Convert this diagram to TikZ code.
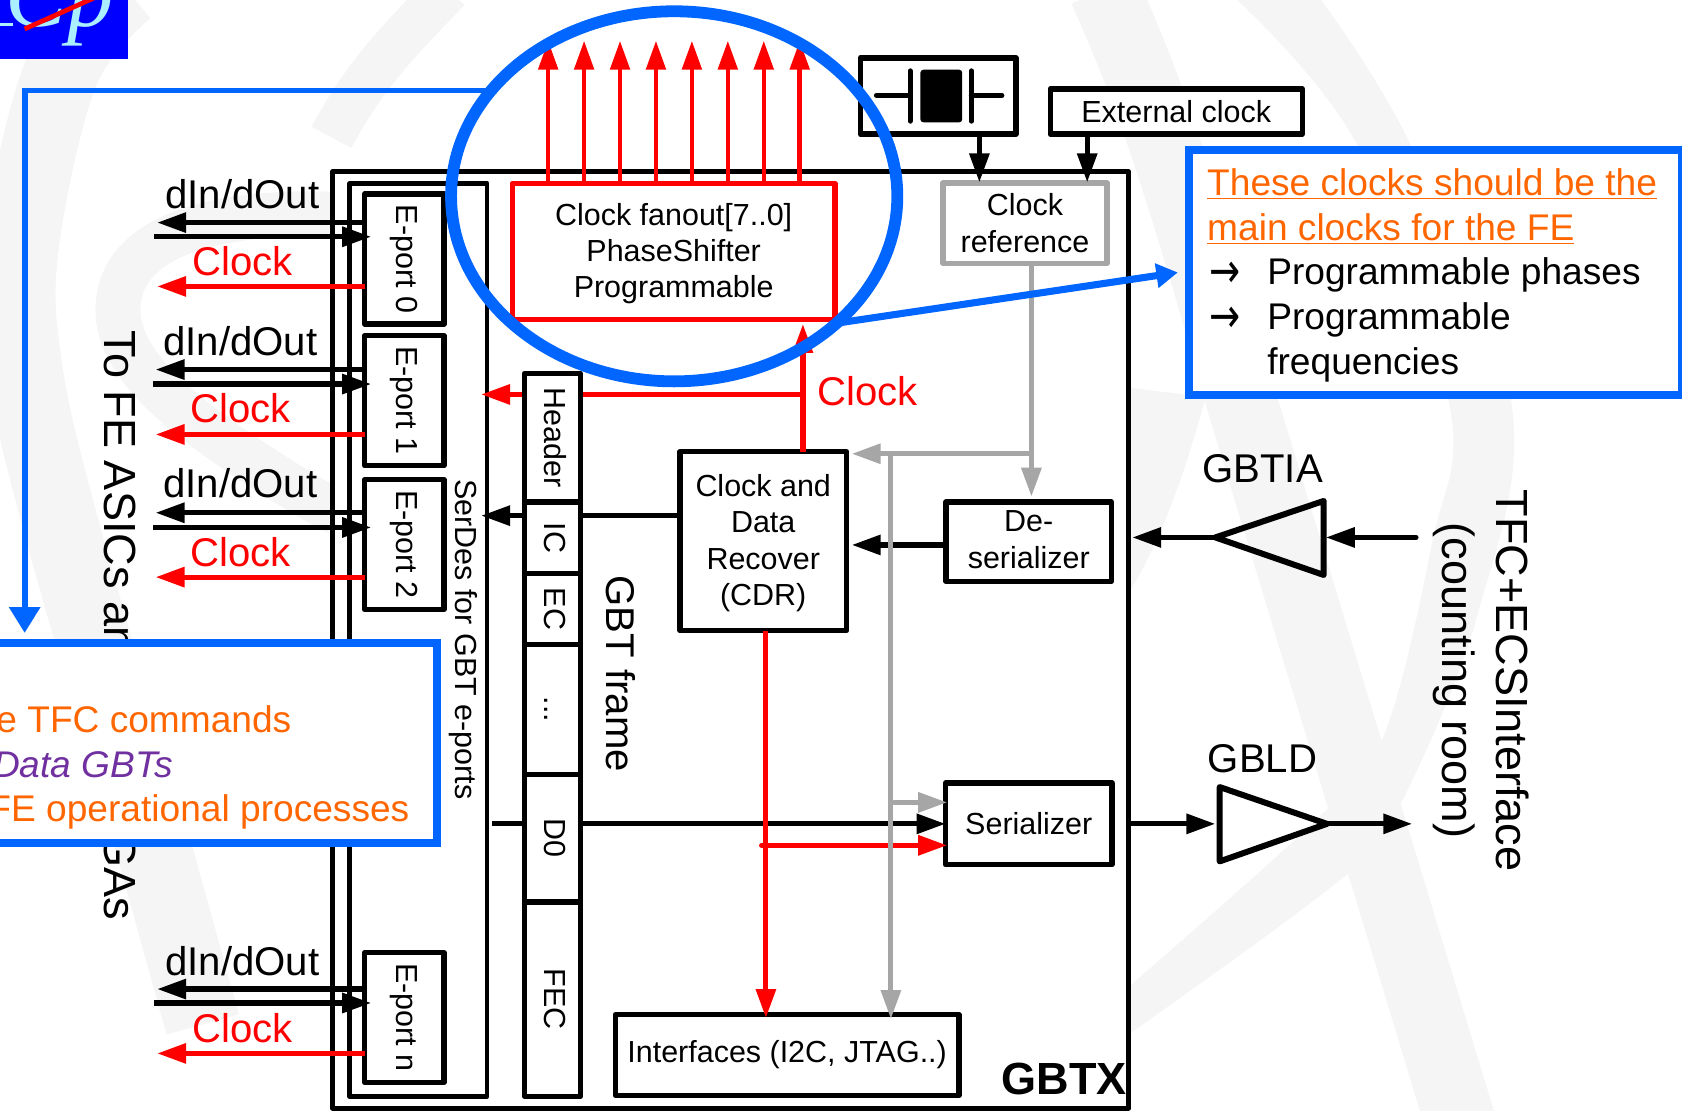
\documentclass[tikz,border=0pt]{standalone}
\usepackage{fontspec}
\usepackage{graphicx}
\setmainfont{Liberation Sans}
\newfontfamily\arrowfont{DejaVu Sans}
\newfontfamily\logofont{Liberation Serif}
\usetikzlibrary{arrows.meta,shapes.geometric,calc}
\definecolor{wm}{HTML}{F5F5F5}
\definecolor{bl}{HTML}{0066FF}
\definecolor{gr}{HTML}{A6A6A6}
\definecolor{org}{HTML}{FF6600}
\definecolor{pur}{HTML}{7030A0}
\definecolor{lg}{HTML}{0000FF}
\definecolor{lgt}{HTML}{AAEEFF}
\newcommand{\dnshift}{\rule{0pt}{12.2pt}}
\newcommand{\upshift}{\rule[-2pt]{0pt}{2pt}}
\newcommand{\arrowglyph}{\scalebox{1}[1.3]{\arrowfont →}}
\tikzset{
  wmband/.style={wm,line cap=butt},
  box/.style={draw,fill=white,line width=2.5pt,outer sep=0pt,inner sep=0pt,align=center,
     font=\fontsize{14.2}{17}\selectfont,line join=round},
  rbox/.style={box,rotate=-90,text height=8.5pt,text depth=1pt},
  lbl/.style={inner sep=0pt,anchor=base,font=\fontsize{18.7}{22}\selectfont},
  rlbl/.style={inner sep=0pt,anchor=base,rotate=-90},
  blk/.style={line width=2.4pt,draw=black,-{Triangle[length=13.5pt,width=9pt]}},
  redarr/.style={line width=2.4pt,draw=red,-{Triangle[length=13.5pt,width=9pt]}},
  redup/.style={line width=2.1pt,draw=red,-{Triangle[length=13.5pt,width=9pt]}},
  grarr/.style={line width=2.4pt,draw=gr,-{Triangle[length=13.5pt,width=9pt]}},
  bltext/.style={inner sep=0pt,font=\fontsize{17.3}{21}\selectfont}
}
\begin{document}
\begin{tikzpicture}[x=0.5pt,y=-0.5pt]
\useasboundingbox (0,0) rectangle (1568,1035);
\clip (0,0) rectangle (1568,1035);
% watermark
\draw[wmband,line width=21pt] (418,-10) .. controls (370,40) and (340,70) .. (309,128);
\draw[wmband,line width=35pt] plot[smooth,tension=0.6] coordinates {(118,-10) (58,65) (20,228) (23,342) (58,494) (143,789)} -- (189,955);
\draw[wmband,line width=21pt] (317,200) .. controls (200,195) and (110,220) .. (110,289) .. controls (110,340) and (170,385) .. (217,418) .. controls (250,440) and (280,460) .. (315,478);
\draw[wmband,line width=33pt] (1029,-10) .. controls (1060,60) and (1090,130) .. (1158,376) -- (1365,1058);
\fill[wm] plot[smooth,tension=0.6] coordinates {(1228,-5) (1314,133) (1409,376) (1378,571) (1308,745) (1257,814) (1044,970)} -- plot[smooth,tension=0.6] coordinates {(1044,927) (1225,766) (1289,688) (1335,506) (1351,376) (1264,133) (1148,-5)} -- cycle;
\fill[wm] (1040,360) -- (1124,370) .. controls (1110,420) and (1090,490) .. (1054,550) -- (1040,570) -- cycle;
% logo
\node[fill=lg,minimum width=59.5pt,minimum height=27.5pt,inner sep=0pt,outer sep=0pt] (logo) at (59.5,27.5) {};
\begin{scope}
\clip (0,0) rectangle (119,55);
\node[inner sep=0pt,anchor=base east,text=lgt,font=\logofont\itshape\fontsize{43}{43}\selectfont] (logot) at (106,25) {Cp};
\fill[lgt] (0,21) rectangle (12,24);
\draw[red,line width=2.2pt] (23,27) -- (90,-3);
\end{scope}
% main boxes
\node[box,line width=2.3pt,minimum width=371pt,minimum height=436.5pt] (gbtx) at (681,596.5) {};
\node[box,line width=2.3pt,minimum width=64pt,minimum height=425.5pt] (serdes) at (390,596.5) {};
\node[rlbl,font=\fontsize{14.2}{17}\selectfont] (serdest) at (425,596) {SerDes for GBT e-ports};
\node[lbl,font=\bfseries\fontsize{21}{24}\selectfont,anchor=base east] (gbtxt) at (1051,1020) {GBTX};
% E-ports
\foreach \n/\t/\yc in {p0/0/241.5,p1/1/373.5,p2/2/507.5,pn/n/948.5}{
  \node[rbox,minimum width=60.5pt,minimum height=37pt] (\n) at (377,\yc) {E-port \t};
}
% left arrows and labels
\foreach \n/\xt/\xa/\ya/\yb/\yr/\yd/\yc in {p0/226/146.5/207.5/220.7/267/194/257,p1/224/145/344.5/358/405/331/394,p2/224/145/478/491.7/538/464/528,pn/226/146.5/922/935/982/909/972}{
  \coordinate (\n a) at (\xa,\ya);
  \coordinate (\n b) at (\xa-2.5,\yb);
  \coordinate (\n c) at (346,\yb);
  \coordinate (\n r) at (\xa,\yr);
  \draw[blk] (\n.south |- \n a) -- (\n a);
  \draw[blk] (\n b) -- (\n c);
  \draw[redarr] (\n.south |- \n r) -- (\n r);
  \node[lbl] (\n dl) at (\xt,\yd) {dIn/dOut};
  \node[lbl,text=red] (\n cl) at (\xt,\yc) {Clock};
}
\node[rlbl,anchor=base west,font=\fontsize{21}{24}\selectfont] (tofe) at (97,308) {To FE ASICs and};
\node[rlbl,anchor=base east,font=\fontsize{21}{24}\selectfont] (tofe2) at (97,858) {FPGAs};
% top boxes
\node[box,draw=red,minimum width=150.5pt,minimum height=63.5pt] (fan) at (628,234.5) {\dnshift Clock fanout[7..0]\\PhaseShifter\\Programmable};
\foreach \x/\i in {511/a,544.5/b,578/c,611.5/d,645/e,678.5/f,712/g,745.5/h}{
  \coordinate (up\i) at (\x,38);
  \draw[redup] (up\i |- fan.north) -- (up\i);
}
\node[box,minimum width=72.5pt,minimum height=35.5pt] (xtal) at (874.5,89.5) {};
\node[box,minimum width=117.5pt,minimum height=21pt] (ext) at (1096.5,104) {External clock};
\node[box,draw=gr,minimum width=76.5pt,minimum height=37.5pt] (cref) at (955.5,208) {Clock\\reference};
\draw[black,line width=2.3pt,line cap=round] (817,89) -- (848.5,89) (848.5,66) -- (848.5,113) (905.5,66) -- (905.5,113) (905.5,89) -- (934,89);
\draw[black,fill=black,line width=1pt,rounded corners=1pt] (859,66) rectangle (896,113);
\coordinate (xa) at (913,170);
\coordinate (xb) at (1013.5,170);
\draw[blk] (xa |- xtal.south) -- (xa);
\draw[blk] (xb |- ext.south) -- (xb);
% functional blocks
\node[box,minimum width=77.5pt,minimum height=83.5pt] (cdr) at (711.5,504.5) {\dnshift Clock and\\Data\\Recover\\(CDR)};
\node[box,minimum width=77pt,minimum height=37pt] (des) at (959,505) {De-\\serializer\upshift};
\node[box,minimum width=77.5pt,minimum height=38pt] (ser) at (959,768) {Serializer};
\node[box,minimum width=160.25pt,minimum height=37.5pt] (intf) at (733.75,983.5) {Interfaces (I2C, JTAG..)};
% red / black signal lines
\coordinate (ct) at (748.5,302);
\coordinate (cl) at (448.5,367.7);
\coordinate (cj) at (748.5,367.7);
\draw[redarr] (ct |- cdr.north) -- (ct);
\draw[redarr] (cj) -- (cl);
\node[lbl,text=red] (clk) at (809,378) {Clock};
\coordinate (ic) at (448.5,480.7);
\draw[blk] (cdr.west |- ic) -- (ic);
\coordinate (d0s) at (459,768);
\draw[blk] (d0s) -- (ser.west);
\coordinate (rs) at (710,788);
\coordinate (rt) at (883,788);
\draw[redarr,line cap=round] (rs) -- (rt);
\coordinate (ri) at (714,949);
\draw[redarr] (ri |- cdr.south) -- (ri);
% frame column
\node[rbox,minimum width=60pt,minimum height=26pt] (fh) at (515,408) {Header};
\node[rbox,minimum width=33.35pt,minimum height=26pt] (fi) at (515,501.35) {IC};
\node[rbox,minimum width=33.15pt,minimum height=26pt] (fe) at (515,567.85) {EC};
\node[rbox,minimum width=60.5pt,minimum height=26pt] (fd) at (515,661.5) {...};
\node[rbox,minimum width=59.5pt,minimum height=26pt] (f0) at (515,781.5) {D0};
\node[rbox,minimum width=90.5pt,minimum height=26pt] (ff) at (515,931.5) {FEC};
\node[rlbl,font=\fontsize{18.7}{22}\selectfont] (gf) at (565,628) {GBT frame};
% deserializer -> cdr
\coordinate (dc) at (794,508);
\coordinate (ds) at (878.5,508);
\draw[blk,line cap=round] (ds) -- (dc);
% grey lines
\coordinate (gd) at (961.5,463);
\coordinate (gj) at (961.5,423);
\coordinate (gl) at (794,423);
\coordinate (gv) at (830.5,423);
\coordinate (gi) at (830.5,950);
\coordinate (gs) at (833.5,748);
\coordinate (gt) at (883,748);
\draw[grarr] (gd |- cref.south) -- (gd);
\draw[grarr] (gj) -- (gl);
\draw[grarr] (gv) -- (gi);
\draw[grarr,line cap=round] (gs) -- (gt);
% triangles
\coordinate (tia1) at (1133,501);
\coordinate (tia2) at (1234,467);
\coordinate (tia3) at (1234,536);
\coordinate (tiain) at (1320,501);
\coordinate (tiain2) at (1236,501);
\coordinate (tiaout) at (1055.5,501);
\coordinate (ld1) at (1137,733.7);
\coordinate (ld2) at (1137,803);
\coordinate (ld3) at (1237,768);
\coordinate (ldin) at (1052,768);
\coordinate (ldin2) at (1133,768);
\coordinate (ldout) at (1316.5,768);
\draw[line width=2.8pt,line join=round] (tia1) -- (tia2) -- (tia3) -- cycle;
\draw[line width=2.8pt,line join=round] (ld1) -- (ld2) -- (ld3) -- cycle;
\draw[blk,line cap=round] (tiain) -- (tiain2);
\draw[blk] (tia1) -- (tiaout);
\draw[blk] (ldin) -- (ldin2);
\draw[blk] (ld3) -- (ldout);
\node[lbl] (tial) at (1177,450) {GBTIA};
\node[lbl] (gbld) at (1177,720) {GBLD};
\node[rlbl,font=\fontsize{21}{24}\selectfont] (tfc) at (1395.5,634.5) {TFC+ECSInterface};
\node[rlbl,font=\fontsize{21}{24}\selectfont] (cnt) at (1345,634.5) {(counting room)};
% lower-left callout
\node[draw=bl,fill=white,line width=3.7pt,minimum width=253.5pt,minimum height=93.5pt,outer sep=0pt,inner sep=0pt] (cb) at (153.5,692.5) {};
\node[bltext,anchor=base east,text=org] (cb1) at (272,683) {e TFC commands};
\node[bltext,anchor=base east,text=pur,font=\itshape\fontsize{17.3}{21}\selectfont] (cb2) at (162,725) {Data GBTs};
\node[bltext,anchor=base east,text=org] (cb3) at (382,766) {FE operational processes};
% right callout
\node[draw=bl,fill=white,line width=3.7pt,minimum width=230pt,minimum height=114.5pt,outer sep=0pt,inner sep=0pt] (rb) at (1338,254) {};
\node[bltext,anchor=base west,text=org] (rb1) at (1125,182) {\underline{These clocks should be the}};
\node[bltext,anchor=base west,text=org] (rb2) at (1125,224) {\underline{main clocks for the FE}};
\node[bltext,anchor=base west] (rba1) at (1127,268) {\arrowglyph};
\node[bltext,anchor=base west] (rb3) at (1181,265) {Programmable phases};
\node[bltext,anchor=base west] (rba2) at (1127,310) {\arrowglyph};
\node[bltext,anchor=base west] (rb4) at (1181,307) {Programmable};
\node[bltext,anchor=base west] (rb5) at (1181,349) {frequencies};
% ellipse and blue connectors
\coordinate (bt) at (23,590);
\coordinate (rbt) at (1098,254);
\node[draw=bl,line width=5.5pt,ellipse,minimum width=208pt,minimum height=172.5pt,inner sep=0pt,outer sep=0pt] (ell) at (628.5,183) {};
\draw[bl,line width=2.7pt,-{Triangle[length=12pt,width=14pt]}] (ell.150.2) -| (bt);
\draw[bl,line width=3.3pt,-{Triangle[length=10pt,width=11pt]}] (ell.-38.6) -- (rbt);
\end{tikzpicture}
\end{document}
